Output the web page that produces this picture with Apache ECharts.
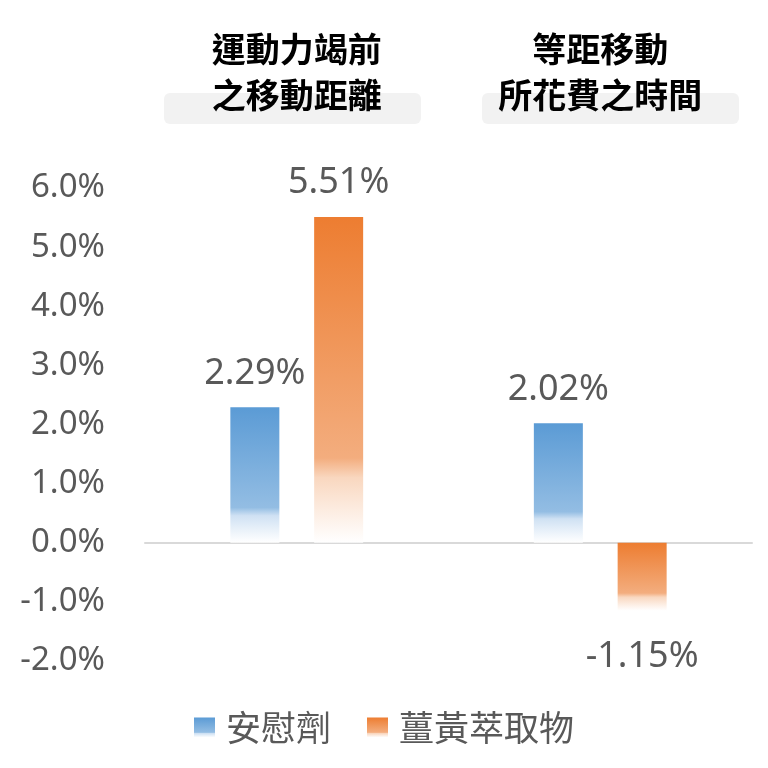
<!DOCTYPE html>
<html>
<head>
<meta charset="utf-8">
<script src="https://cdn.jsdelivr.net/npm/echarts@6/dist/echarts.min.js"></script>
<style>html,body{margin:0;padding:0;background:#fff}#c{width:768px;height:768px}</style>
</head>
<body>
<div id="c"></div>
<script>
var categories = ['運動力竭前\n之移動距離', '等距移動\n所花費之時間'];
var seriesNames = ['安慰劑', '薑黃萃取物'];
var placeboValues = [2.29, 2.02];
var curcuminValues = [5.51, -1.15];
var yTicks = [-2, -1, 0, 1, 2, 3, 4, 5, 6];

var FONT = '"Noto Sans", "Noto Sans CJK TC", sans-serif';
var CJK = '"Noto Sans CJK TC", "Noto Sans", sans-serif';

function grad(c0, c1, c2) {
  return new echarts.graphic.LinearGradient(0, 0, 0, 1, [
    {offset: 0, color: c0},
    {offset: 0.74, color: c1},
    {offset: 0.8, color: c2},
    {offset: 1, color: 'rgba(255,255,255,0.9)'}
  ]);
}
var blueGrad = grad('#5b9bd5', '#93bde3', '#cfe1f3');
var orangeGrad = grad('#ed7d31', '#f3ad7e', '#f9d7bf');

function labelFor(v) {
  return {
    value: v,
    label: v < 0 ? {position: 'bottom', distance: 28} : {position: 'top', distance: 16}
  };
}

var chart = echarts.init(document.getElementById('c'), null, {renderer: 'canvas'});
chart.setOption({
  animation: false,
  backgroundColor: '#ffffff',
  grid: {left: 145, right: 16, top: 188, bottom: 107, containLabel: false},
  graphic: [
    {type: 'rect', left: 164, top: 93, shape: {width: 257, height: 31, r: 6}, style: {fill: '#f2f2f2'}, z: -1},
    {type: 'rect', left: 482, top: 93, shape: {width: 257, height: 31, r: 6}, style: {fill: '#f2f2f2'}, z: -1}
  ],
  legend: {
    bottom: 18,
    left: 'center',
    itemWidth: 21,
    itemHeight: 20,
    itemGap: 36,
    icon: 'rect',
    textStyle: {color: '#595959', fontSize: 35, fontFamily: CJK, padding: [0, 0, 0, 6]},
    data: seriesNames
  },
  xAxis: [
    {
      type: 'category',
      data: categories,
      axisLine: {show: true, onZero: true, lineStyle: {color: '#d9d9d9', width: 2}},
      axisTick: {show: false},
      axisLabel: {show: false},
      splitLine: {show: false}
    },
    {
      type: 'category',
      position: 'top',
      data: categories,
      axisLine: {show: false, onZero: false},
      axisTick: {show: false},
      axisLabel: {
        show: true, interval: 0, margin: 70,
        color: '#000000', fontSize: 34, fontWeight: 'bold', fontFamily: CJK, lineHeight: 46
      },
      splitLine: {show: false}
    }
  ],
  yAxis: {
    type: 'value',
    min: yTicks[0],
    max: yTicks[yTicks.length - 1],
    interval: 1,
    axisLine: {show: false},
    axisTick: {show: false},
    splitLine: {show: false},
    axisLabel: {
      margin: 40,
      color: '#595959',
      fontSize: 33,
      fontFamily: FONT,
      formatter: function (v) { return v.toFixed(1) + '%'; }
    }
  },
  series: [
    {
      name: seriesNames[0],
      type: 'bar',
      xAxisIndex: 0,
      barWidth: 49,
      barGap: '71%',
      data: placeboValues.map(labelFor),
      itemStyle: {color: blueGrad},
      label: {show: true, color: '#595959', fontSize: 36, fontFamily: FONT,
        formatter: function (p) { return p.value.toFixed(2) + '%'; }}
    },
    {
      name: seriesNames[1],
      type: 'bar',
      xAxisIndex: 0,
      barWidth: 49,
      barGap: '71%',
      data: curcuminValues.map(labelFor),
      itemStyle: {color: orangeGrad},
      label: {show: true, color: '#595959', fontSize: 36, fontFamily: FONT,
        formatter: function (p) { return p.value.toFixed(2) + '%'; }}
    }
  ]
});
</script>
</body>
</html>
